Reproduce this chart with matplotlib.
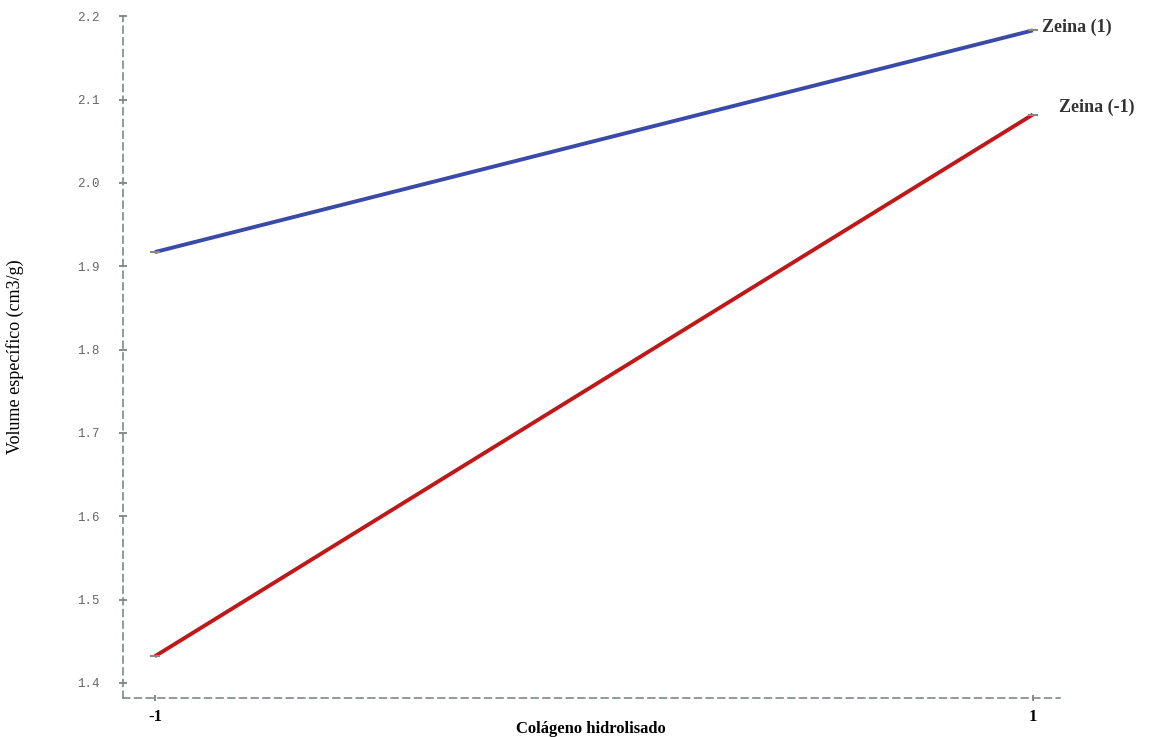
import matplotlib
matplotlib.use("Agg")
import matplotlib.pyplot as plt

x_levels = [-1, 1]
x_labels = ["-1", "1"]
zeina_pos = [1.917, 2.183]
zeina_neg = [1.432, 2.082]
series_names = ["Zeina (1)", "Zeina (-1)"]
y_ticks = [1.4, 1.5, 1.6, 1.7, 1.8, 1.9, 2.0, 2.1, 2.2]

fig = plt.figure(figsize=(11.7, 7.37), dpi=100)
ax = fig.add_axes([0.105, 0.053, 0.801, 0.925])

ax.plot(x_levels, zeina_pos, color="#3a4aa8", lw=2.8, solid_capstyle="butt")
ax.plot(x_levels, zeina_neg, color="#c01818", lw=2.8, solid_capstyle="butt")
for ys in (zeina_pos, zeina_neg):
    ax.plot(x_levels, ys, ls="none", marker="_", ms=7, mew=1.5, color="#888888")

ax.text(1.022, zeina_pos[1] + 0.004, series_names[0], fontsize=13, fontweight="bold",
        family="Liberation Serif", color="#333333", va="center", ha="left")
ax.text(1.06, zeina_neg[1] + 0.009, series_names[1], fontsize=13, fontweight="bold",
        family="Liberation Serif", color="#333333", va="center", ha="left", clip_on=False)

ax.set_xlim(-1.073, 1.062)
ax.set_ylim(1.382, 2.2)
ax.set_xticks(x_levels)
ax.set_xticklabels(x_labels, fontsize=12, fontweight="bold", family="Liberation Serif")
ax.set_yticks(y_ticks)
ax.set_yticklabels([f"{v:.1f}" for v in y_ticks], fontsize=9,
                   family="Liberation Mono", color="#666666")

for s in ("top", "right"):
    ax.spines[s].set_visible(False)
for s in ("left", "bottom"):
    ax.spines[s].set_linestyle((0, (4, 3)))
    ax.spines[s].set_color("#7a8a8a")
    ax.spines[s].set_linewidth(1.2)

ax.tick_params(axis="y", direction="inout", length=6, width=1.2, color="#777777", pad=14)
ax.tick_params(axis="x", direction="inout", length=4, width=1.2, color="#777777", pad=6)

ax.set_ylabel("Volume específico (cm3/g)", fontsize=13, family="Liberation Serif",
              fontstretch="condensed", labelpad=38)
fig.text(0.505, 0.0, "Colágeno hidrolisado", fontsize=12, fontweight="bold",
         family="Liberation Serif", ha="center", va="bottom")

fig.savefig("out.png", dpi=100)
